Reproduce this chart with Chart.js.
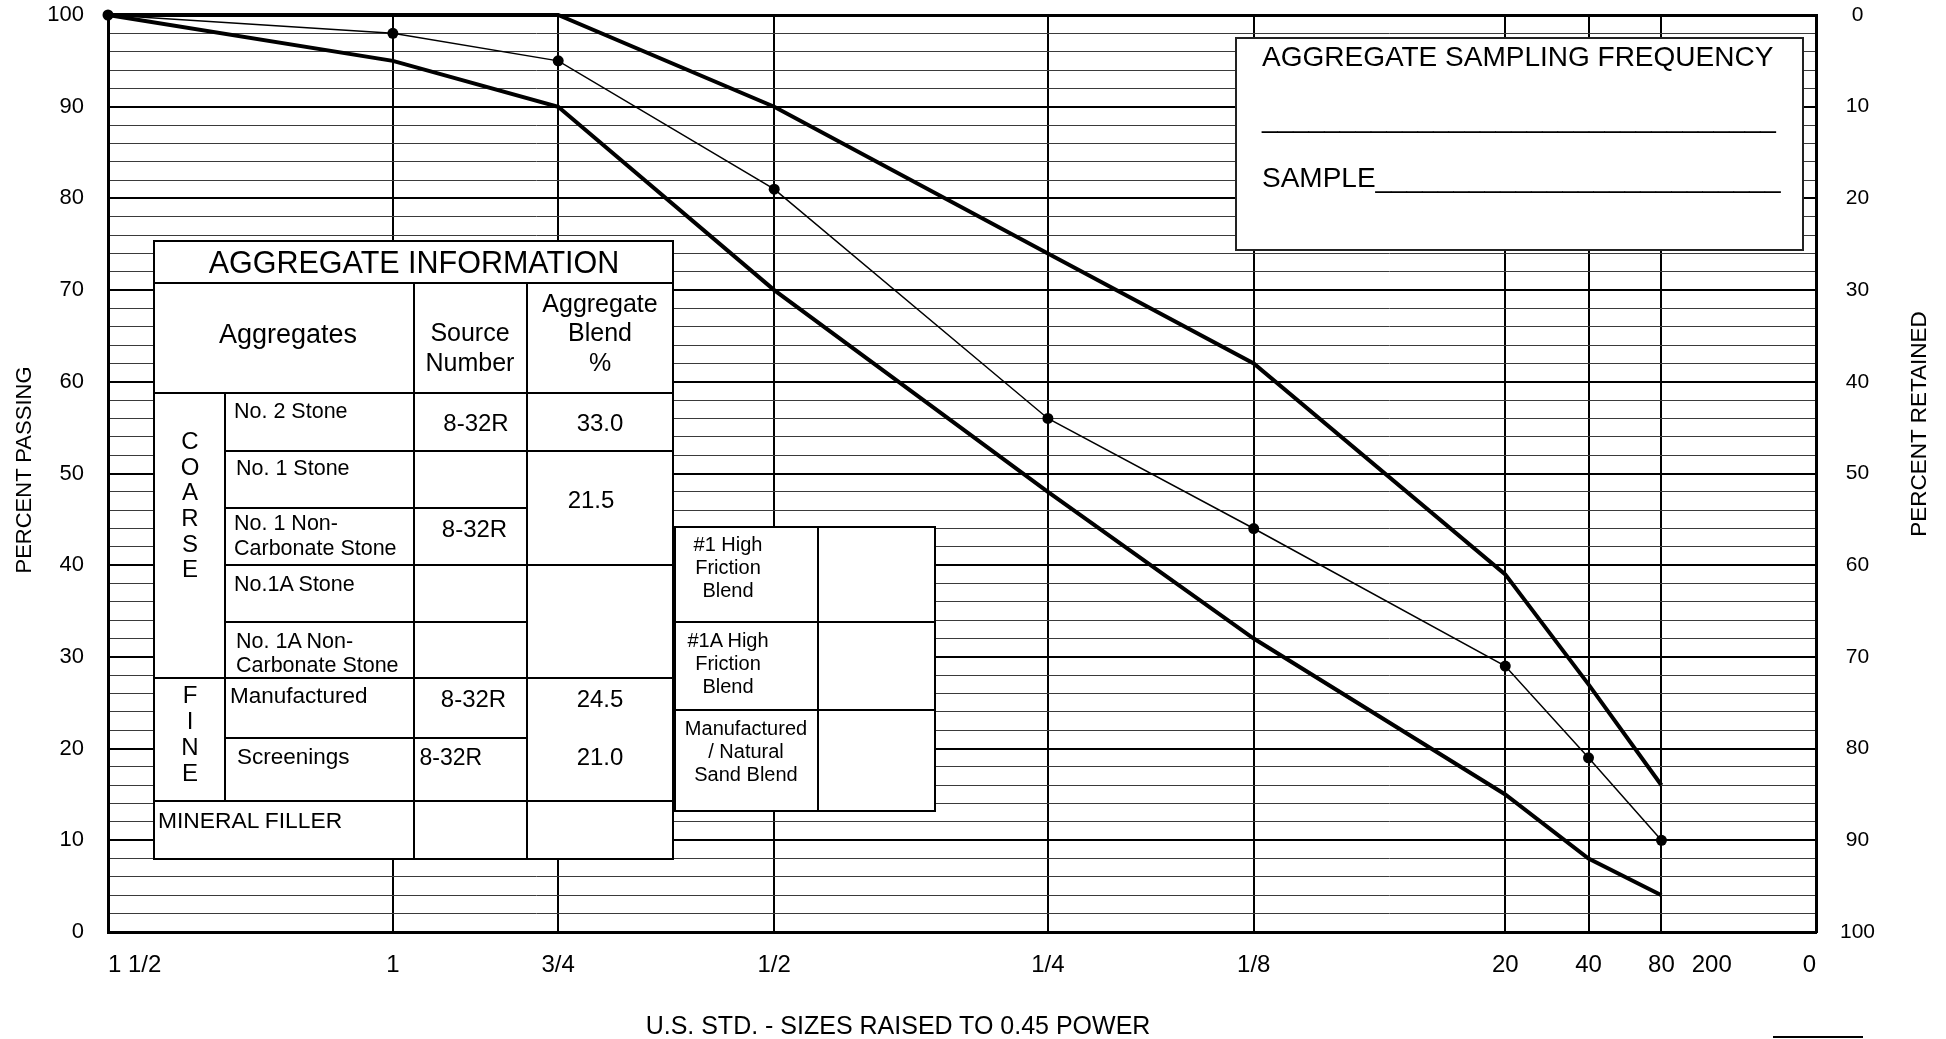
<!DOCTYPE html>
<html>
<head>
<meta charset="utf-8">
<title>Aggregate Gradation Chart</title>
<script src="https://cdn.jsdelivr.net/npm/chart.js@4.4.0/dist/chart.umd.min.js"></script>
<style>
  html, body { margin: 0; padding: 0; background: #fff; overflow: hidden; }
  body { font-family: "Liberation Sans", Arial, sans-serif; color: #000; }
  #wrap { position: absolute; left: 0; top: 0; width: 1946px; height: 1039px; }
  #overlay { position: absolute; left: 0; top: 0; width: 1946px; height: 1039px; pointer-events: none; }
  .box { position: absolute; background: #fff; border: 2px solid #000; box-sizing: border-box; }
  .ln { position: absolute; background: #000; }
  .t { position: absolute; white-space: pre; }
</style>
</head>
<body>
<div id="wrap"><canvas id="gradation"></canvas></div>
<div id="overlay"></div>
<script>
// sieves along the bottom, left to right
var sieveLabels = ['1 1/2', '1', '3/4', '1/2', '1/4', '1/8', '20', '40', '80', '200', '0'];
var sieveSizesMm = [37.5, 25, 19, 12.5, 6.35, 3.175, 0.85, 0.425, 0.18, 0.075, 0];

// percent passing at the first 9 sieves (1 1/2 .. 80)
var upperLimit = [100, 100, 100, 90, 74, 62, 39, 27, 16];
var blendGradation = [100, 98, 95, 81, 56, 44, 29, 19, 10];
var lowerLimit = [100, 95, 90, 70, 48, 32, 15, 8, 4];

// aggregate information table
var aggregateNames = ['No. 2 Stone', 'No. 1 Stone', 'No. 1 Non-\nCarbonate Stone', 'No.1A Stone',
                      'No. 1A Non-\nCarbonate Stone', 'Manufactured', 'Screenings', 'MINERAL FILLER'];
var sourceNumbers = ['8-32R', '8-32R', '8-32R', '8-32R'];
var blendPercents = ['33.0', '21.5', '24.5', '21.0'];
var frictionBlends = ['#1 High\nFriction\nBlend', '#1A High\nFriction\nBlend', 'Manufactured\n/ Natural\nSand Blend'];

var FONT = '"Liberation Sans", Arial, sans-serif';
Chart.defaults.font.family = FONT;
Chart.defaults.color = '#000';

// x axis: sizes raised to the 0.45 power
function sievePos(mm) {
    return Math.pow(mm, 0.45);
}
function labelFor(value) {
    for (var i = 0; i < sieveSizesMm.length; i++) {
        if (Math.abs(sievePos(sieveSizesMm[i]) - value) < 1e-6) return sieveLabels[i];
    }
    return '';
}
function toPoints(values) {
    return values.map(function(v, i) { return {x: sievePos(sieveSizesMm[i]), y: v}; });
}
function noPad(scale) {
    scale.paddingTop = 0;
    scale.paddingBottom = 0;
    scale.paddingLeft = 0;
    scale.paddingRight = 0;
}

new Chart(document.getElementById('gradation'), {
    type: 'line',
    data: {
        datasets: [{
            data: toPoints(upperLimit),
            borderColor: '#000',
            borderWidth: 4,
            pointRadius: 0,
            clip: false
        }, {
            data: toPoints(lowerLimit),
            borderColor: '#000',
            borderWidth: 4,
            pointRadius: 0,
            clip: false
        }, {
            data: toPoints(blendGradation),
            borderColor: '#000',
            borderWidth: 1.5,
            pointRadius: 5.5,
            pointBackgroundColor: '#000',
            pointBorderWidth: 0,
            clip: false
        }]
    },
    options: {
        responsive: true,
        maintainAspectRatio: false,
        animation: false,
        devicePixelRatio: 1,
        layout: {padding: {top: 15, left: 0, right: 0, bottom: 0}},
        plugins: {legend: {display: false}, tooltip: {enabled: false}},
        scales: {
            x: {
                type: 'linear',
                position: 'bottom',
                reverse: true,
                min: 0,
                max: sievePos(sieveSizesMm[0]),
                afterBuildTicks: function(scale) {
                    scale.ticks = sieveSizesMm.slice().reverse().map(function(mm) {
                        return {value: sievePos(mm)};
                    });
                },
                afterFit: function(scale) { scale.height = 107; noPad(scale); },
                grid: {
                    drawTicks: false,
                    lineWidth: 2,
                    color: function(ctx) {
                        return labelFor(ctx.tick.value) === '200' ? 'rgba(0,0,0,0)' : '#000';
                    }
                },
                border: {color: '#000', width: 3},
                ticks: {
                    align: 'inner',
                    padding: 19,
                    autoSkip: false,
                    maxRotation: 0,
                    font: {size: 24},
                    callback: function(value) { return labelFor(value); }
                }
            },
            y: {
                type: 'linear',
                position: 'left',
                min: 0,
                max: 100,
                afterFit: function(scale) { scale.width = 108; noPad(scale); },
                grid: {
                    drawTicks: false,
                    color: function(ctx) { return ctx.tick.value % 10 === 0 ? '#000' : '#3a3a3a'; },
                    lineWidth: function(ctx) {
                        if (ctx.tick.value === 100) return 3;
                        return ctx.tick.value % 10 === 0 ? 2 : 1;
                    }
                },
                border: {color: '#000', width: 3},
                ticks: {
                    stepSize: 2,
                    autoSkip: false,
                    padding: 24,
                    font: {size: 22},
                    callback: function(value) { return value % 10 === 0 ? String(value) : ''; }
                }
            },
            yRight: {
                type: 'linear',
                position: 'right',
                min: 0,
                max: 100,
                reverse: true,
                afterFit: function(scale) { scale.width = 130; noPad(scale); },
                grid: {display: false, drawTicks: false},
                border: {color: '#000', width: 3},
                ticks: {
                    stepSize: 10,
                    padding: 24,
                    crossAlign: 'center',
                    font: {size: 21}
                }
            }
        }
    }
});

// ---- boxes and titles drawn over the chart ----
var overlay = document.getElementById('overlay');

function el(cls, css, str) {
    var d = document.createElement('div');
    d.className = cls;
    Object.assign(d.style, css);
    if (str != null) d.textContent = str;
    overlay.appendChild(d);
    return d;
}
function box(x, y, w, h, color) {
    el('box', {left: x + 'px', top: y + 'px', width: w + 'px', height: h + 'px', borderColor: color || '#000'});
}
function hline(x1, x2, y) {
    el('ln', {left: x1 + 'px', top: (y - 1) + 'px', width: (x2 - x1) + 'px', height: '2px'});
}
function vline(x, y1, y2) {
    el('ln', {left: (x - 1) + 'px', top: y1 + 'px', width: '2px', height: (y2 - y1) + 'px'});
}
function text(str, x, yc, size, align, lh) {
    var n = str.split('\n').length;
    lh = lh || Math.round(size * 1.15);
    var css = {top: (yc - n * lh / 2) + 'px', fontSize: size + 'px', lineHeight: lh + 'px'};
    if (align === 'center') {
        css.left = (x - 600) + 'px';
        css.width = '1200px';
        css.textAlign = 'center';
    } else {
        css.left = x + 'px';
    }
    el('t', css, str);
}
function rotated(str, cx, cy, size) {
    el('t', {left: cx + 'px', top: cy + 'px', fontSize: size + 'px', lineHeight: '1',
             transform: 'translate(-50%, -50%) rotate(-90deg)'}, str);
}

// axis titles
rotated('PERCENT PASSING', 24, 470, 22);
rotated('PERCENT RETAINED', 1919, 424, 22.5);
text('U.S. STD. - SIZES RAISED TO 0.45 POWER', 898, 1025, 25, 'center');
hline(1773, 1863, 1037);

// aggregate information table
box(153, 240, 521, 620);
hline(153, 674, 283);
hline(153, 674, 393);
hline(225, 674, 451);
hline(225, 527, 508);
hline(225, 674, 565);
hline(225, 527, 622);
hline(153, 674, 678);
hline(225, 527, 738);
hline(153, 674, 801);
vline(225, 393, 801);
vline(414, 283, 860);
vline(527, 283, 860);

text('AGGREGATE INFORMATION', 414, 262, 30.5, 'center');
text('Aggregates', 288, 334, 27, 'center');
text('Source\nNumber', 470, 347, 25, 'center', 30);
text('Aggregate\nBlend\n%', 600, 333, 25, 'center', 29.5);
text('C\nO\nA\nR\nS\nE', 190, 505, 24, 'center', 25.6);
text('F\nI\nN\nE', 190, 734, 24, 'center', 26);

text(aggregateNames[0], 234, 411, 21.5);
text(aggregateNames[1], 236, 468, 21.5);
text(aggregateNames[2], 234, 536, 21.5, 'left', 25);
text(aggregateNames[3], 234, 584, 21.5);
text(aggregateNames[4], 236, 653, 21.5, 'left', 24.5);
text(aggregateNames[5], 230, 696, 22.5);
text(aggregateNames[6], 237, 757, 22.5);
text(aggregateNames[7], 158, 820, 22.8);

text(sourceNumbers[0], 476, 423, 24, 'center');
text(sourceNumbers[1], 474.5, 529, 24, 'center');
text(sourceNumbers[2], 473.5, 699, 24, 'center');
text(sourceNumbers[3], 419.5, 757, 23);

text(blendPercents[0], 600, 423, 24, 'center');
text(blendPercents[1], 591, 500, 24, 'center');
text(blendPercents[2], 600, 699, 24, 'center');
text(blendPercents[3], 600, 757, 24, 'center');

// high friction blend table
box(674, 526, 262, 286);
vline(818, 526, 812);
hline(674, 936, 622);
hline(674, 936, 710);
text(frictionBlends[0], 728, 567, 20, 'center', 23);
text(frictionBlends[1], 728, 663, 20, 'center', 23);
text(frictionBlends[2], 746, 751, 20, 'center', 23);

// sampling frequency box
box(1235, 37, 569, 214, '#222');
text('AGGREGATE SAMPLING FREQUENCY', 1262, 57, 28);
text('_________________________________', 1262, 118, 28);
text('SAMPLE__________________________', 1262, 178, 28);
</script>
</body>
</html>
